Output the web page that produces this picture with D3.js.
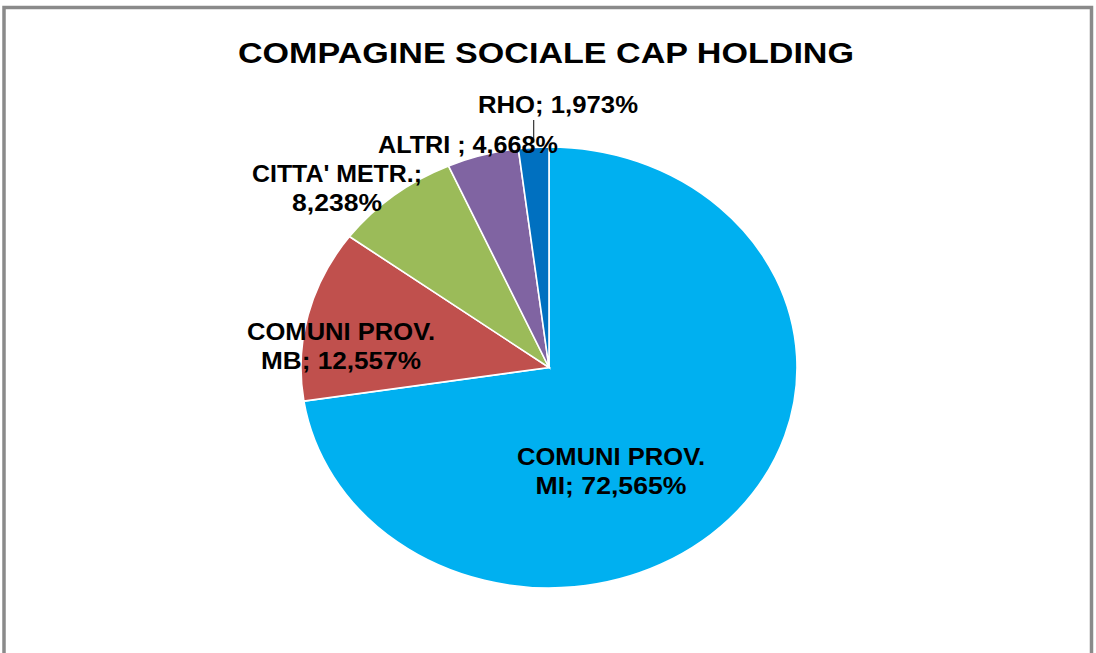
<!DOCTYPE html>
<html><head><meta charset="utf-8">
<script src="https://cdn.jsdelivr.net/npm/d3@7"></script>
<style>html,body{margin:0;padding:0;background:#fff;overflow:hidden}</style>
</head><body>
<svg id="c" width="1096" height="653"></svg>
<script>
const title = "COMPAGINE SOCIALE CAP HOLDING";
const categories = ["COMUNI PROV. MI", "COMUNI PROV. MB", "CITTA' METR.", "ALTRI", "RHO"];
const values = [72.565, 12.557, 8.238, 4.668, 1.973];
const labelLines = [
  ["COMUNI PROV.", "MI; 72,565%"],
  ["COMUNI PROV.", "MB; 12,557%"],
  ["CITTA' METR.;", "8,238%"],
  ["ALTRI ; 4,668%"],
  ["RHO; 1,973%"]
];
const colors = ["#00B0F0", "#C0504D", "#9BBB59", "#8064A2", "#0070C0"];

// layout (not data)
const W = 1096, H = 653;
const cx = 549, cy = 367.5, rx = 248, ry = 220.5;
const labelLayout = [
  {x: 611, y: 465, widths: [188, 151]},
  {x: 341, y: 340, widths: [188, 160]},
  {x: 337, y: 182, widths: [170, 90]},
  {x: 468, y: 153, widths: [180]},
  {x: 558, y: 113, widths: [160]}
];
const lineH = 28.5;
const FONT = "'Liberation Sans', Arial, sans-serif";

const svg = d3.select("#c");
svg.append("rect").attr("x", 0).attr("y", 0).attr("width", W).attr("height", H).attr("fill", "#fff");
svg.append("rect").attr("x", 4).attr("y", 7.5).attr("width", 1087.5).attr("height", 700)
  .attr("fill", "none").attr("stroke", "#8a8a8a").attr("stroke-width", 3.5);

function fitText(sel, w) {
  sel.attr("textLength", w).attr("lengthAdjust", "spacingAndGlyphs");
}

const t = svg.append("text").attr("x", 546).attr("y", 63).attr("text-anchor", "middle")
  .attr("font-family", FONT).attr("font-weight", 700).attr("font-size", 29).attr("fill", "#000").text(title);
fitText(t, 616);

const R = 100;
const pie = d3.pie().sort(null).value(d => d)(values);
const arc = d3.arc().innerRadius(0).outerRadius(R);
const g = svg.append("g").attr("transform", `translate(${cx},${cy}) scale(${rx / R},${ry / R})`);
g.selectAll("path").data(pie).join("path")
  .attr("d", arc)
  .attr("fill", (d, i) => colors[i])
  .attr("stroke", "#fff").attr("stroke-width", 1.6)
  .attr("vector-effect", "non-scaling-stroke");

// leader line for RHO
const rho = pie[4];
const mid = (rho.startAngle + rho.endAngle) / 2;
const lx = cx + rx * Math.sin(mid), ly = cy - ry * Math.cos(mid);
svg.append("line").attr("x1", lx).attr("x2", lx).attr("y1", ly - 5).attr("y2", 120)
  .attr("stroke", "#404040").attr("stroke-width", 1.3);

labelLines.forEach((lines, i) => {
  const L = labelLayout[i];
  lines.forEach((s, j) => {
    const tx = svg.append("text").attr("x", L.x).attr("y", L.y + j * lineH)
      .attr("text-anchor", "middle").attr("font-family", FONT).attr("font-weight", 700)
      .attr("font-size", 23).attr("fill", "#000").text(s);
    fitText(tx, L.widths[j]);
  });
});
</script>
</body></html>
